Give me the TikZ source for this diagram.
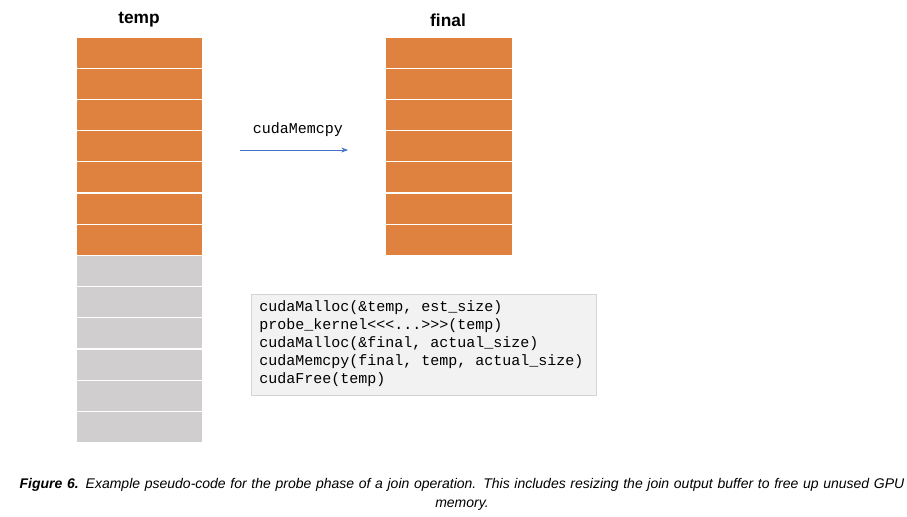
\documentclass[tikz,border=0pt]{standalone}
\usepackage{fontspec}
\setmainfont{Liberation Sans}
\newfontfamily\codefont{Liberation Mono}
\usetikzlibrary{arrows.meta, positioning}
\definecolor{cellorange}{HTML}{E0823F}
\definecolor{cellgray}{HTML}{D0CECE}
\definecolor{boxfill}{HTML}{F2F2F2}
\definecolor{boxline}{HTML}{D4D4D4}
\definecolor{arrowblue}{HTML}{4472C4}
\begin{document}
\begin{tikzpicture}[x=0.75pt,y=-0.75pt,
    cell/.style={draw=white,line width=1pt,minimum width=95.25pt,minimum height=23.4pt,inner sep=0pt},
    full/.style={cell,fill=cellorange},
    free/.style={cell,fill=cellgray},
    head/.style={font=\fontsize{13}{15}\selectfont\bfseries}]
\useasboundingbox (0,0) rectangle (907,517);

% temp buffer
\foreach \i in {0,...,6}
  \node[full] (t\i) at (139.5,{52.6+31.2*\i}) {};
\foreach \i in {7,...,12}
  \node[free] (t\i) at (139.5,{52.6+31.2*\i}) {};
\node[head] (temp) at (139,20) {temp};

% final buffer
\foreach \i in {0,...,6}
  \node[full] (f\i) at (449,{52.6+31.2*\i}) {};
\node[head] (final) at (448,20) {final};

% copy arrow
\coordinate (cs) at (240,150);
\coordinate (ce) at (348,150);
\draw[-{Stealth[length=5pt]},arrowblue,line width=0.6pt] (cs) -- (ce);
\node[font=\codefont\fontsize{11.25}{13}\selectfont] (copy) at (298,130) {cudaMemcpy};

% pseudo-code
\node[draw=boxline,fill=boxfill,minimum width=258.75pt,minimum height=75.75pt,
      inner sep=0pt] (code) at (423.5,344.5) {};
\node[anchor=north west,align=left,inner sep=0pt,
      font=\codefont\fontsize{11.25}{13.5}\selectfont] (lines) at (259,300)
  {cudaMalloc(\&temp, est\_size)\\
   probe\_kernel<{}<{}<...>{}>{}>(temp)\\
   cudaMalloc(\&final, actual\_size)\\
   cudaMemcpy(final, temp, actual\_size)\\
   cudaFree(temp)};

% caption
\node[align=center,text width=665pt,font=\fontsize{10.5}{14.25}\selectfont\itshape] (cap) at (462,494)
  {\textbf{Figure 6.} Example pseudo-code for the probe phase of a join operation. This includes resizing the join output buffer to free up unused GPU memory.};
\end{tikzpicture}
\end{document}
